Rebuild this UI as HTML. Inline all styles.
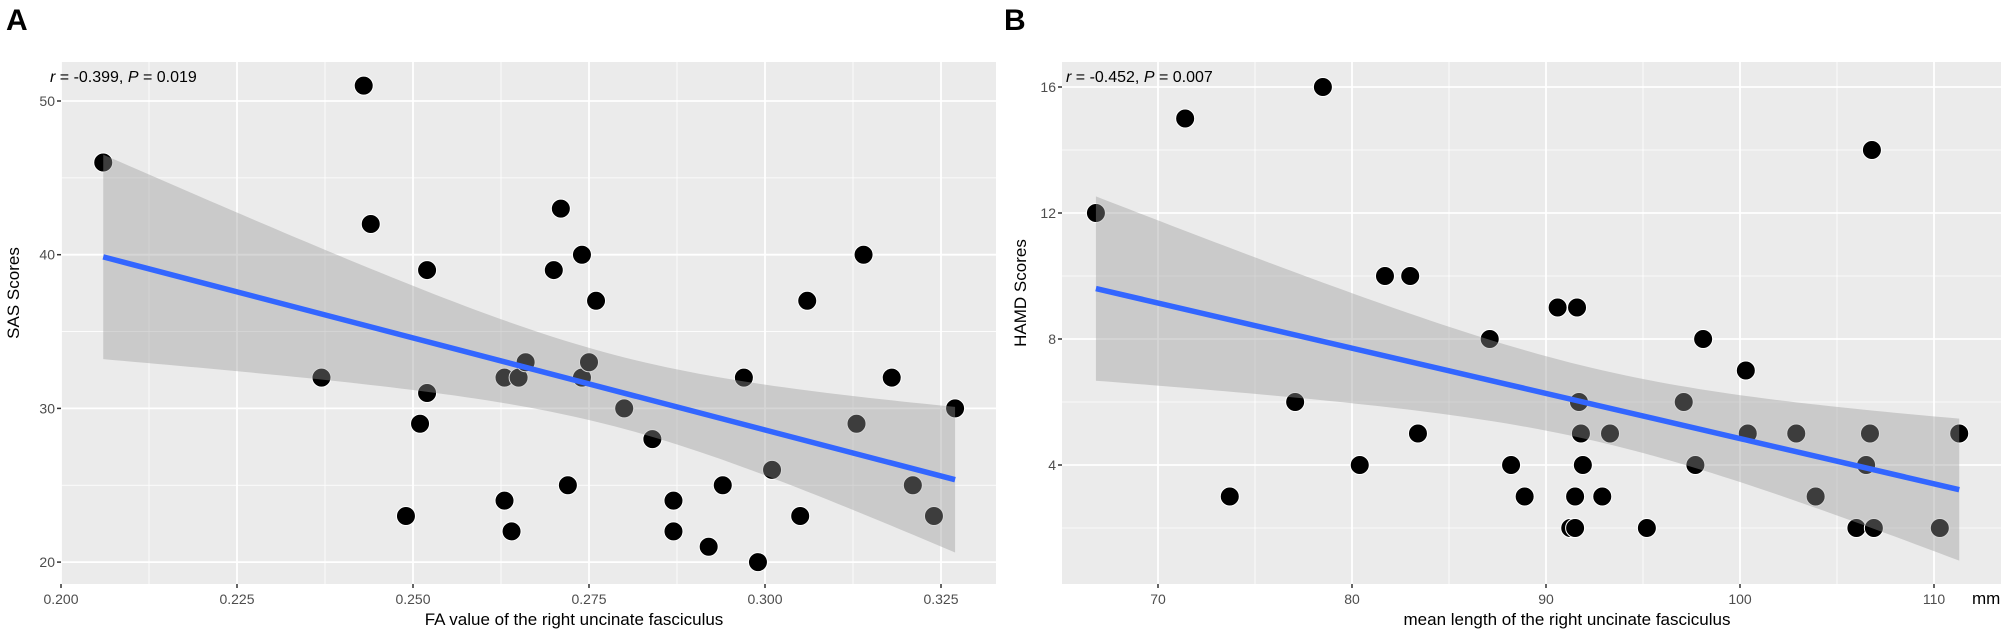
<!DOCTYPE html>
<html><head><meta charset="utf-8"><style>
html,body{margin:0;padding:0;background:#fff;}
svg{display:block;font-family:"Liberation Sans",Arial,sans-serif;}
</style></head><body>
<svg id="fig" width="2008" height="635" viewBox="0 0 2008 635" xmlns="http://www.w3.org/2000/svg">
<text x="6" y="30" font-size="30" font-weight="bold">A</text>
<text x="1004" y="30" font-size="30" font-weight="bold">B</text>
<g id="pa"></g>
<g id="pb"></g>
</svg>
<script>
const faValues=[0.206,0.243,0.244,0.237,0.249,0.251,0.252,0.252,0.263,0.263,0.264,0.265,0.266,0.271,0.270,0.272,0.274,0.274,0.275,0.276,0.280,0.284,0.287,0.287,0.292,0.294,0.297,0.299,0.301,0.305,0.306,0.313,0.314,0.318,0.321,0.324,0.327];
const sasScores=[46,51,42,32,23,29,31,39,32,24,22,32,33,43,39,25,40,32,33,37,30,28,24,22,21,25,32,20,26,23,37,29,40,32,25,23,30];
const lenValues=[66.8,71.4,73.7,77.07,78.5,80.4,81.7,83.0,83.4,87.1,88.2,88.9,90.6,91.25,91.5,91.5,91.6,91.7,91.8,91.9,92.9,93.3,95.2,97.1,97.7,98.1,100.3,100.4,102.9,103.9,106.0,106.5,106.7,106.8,106.9,110.3,111.3];
const hamdScores=[12,15,3,6,16,4,10,10,5,8,4,3,9,2,2,3,9,6,5,4,3,5,2,6,4,8,7,5,5,3,2,4,5,14,2,2,5];
const aXTicks=[0.200,0.225,0.250,0.275,0.300,0.325];
const aXTickLabels=["0.200","0.225","0.250","0.275","0.300","0.325"];
const aYTicks=[20,30,40,50];
const bXTicks=[70,80,90,100,110];
const bYTicks=[4,8,12,16];
const NS="http://www.w3.org/2000/svg";
function mk(parent,tag,attrs,txt){const e=document.createElementNS(NS,tag);for(const k in attrs)e.setAttribute(k,attrs[k]);if(txt!==undefined)e.textContent=txt;parent.appendChild(e);return e;}
function panel(g,cfg){
  const L=cfg.left,R=cfg.right,T=62,B=584;
  const sx=v=>cfg.x0px+(v-cfg.x0)*cfg.xs;
  const sy=v=>cfg.y0px-(v-cfg.y0)*cfg.ys;
  const bg=mk(g,'rect',{x:L,y:T,width:R-L,height:B-T,fill:'#ebebeb'});
  
  
  // minor grid
  const xt=cfg.xticks,yt=cfg.yticks;
  const dx=xt[1]-xt[0],dy=yt[1]-yt[0];
  for(let v=xt[0]-dx/2;v<=xt[xt.length-1]+dx;v+=dx){const p=sx(v);if(p>L&&p<R)mk(g,'line',{x1:p,x2:p,y1:T,y2:B,stroke:'#fff','stroke-width':0.8});}
  for(let v=yt[0]-dy/2;v<=yt[yt.length-1]+dy;v+=dy){const p=sy(v);if(p>T&&p<B)mk(g,'line',{x1:L,x2:R,y1:p,y2:p,stroke:'#fff','stroke-width':0.8});}
  xt.forEach((v,i)=>{const p=sx(v);
    mk(g,'line',{x1:p,x2:p,y1:T,y2:B,stroke:'#fff','stroke-width':1.8});
    mk(g,'line',{x1:p,x2:p,y1:B,y2:B+4,stroke:'#333','stroke-width':1.5});
    const t=mk(g,'text',{x:p,y:604,'font-size':14,'text-anchor':'middle',fill:'#4d4d4d'},cfg.xlabels[i]);
    
    });
  yt.forEach(v=>{const p=sy(v);
    mk(g,'line',{x1:L,x2:R,y1:p,y2:p,stroke:'#fff','stroke-width':1.8});
    mk(g,'line',{x1:L-4,x2:L,y1:p,y2:p,stroke:'#333','stroke-width':1.5});
    const t=mk(g,'text',{x:L-6,y:p+5,'font-size':14,'text-anchor':'end',fill:'#4d4d4d'},String(v));
    
    });
  const xs=cfg.xs_data,ys=cfg.ys_data,n=xs.length;
  xs.forEach((v,i)=>{const c=mk(g,'circle',{cx:sx(v),cy:sy(ys[i]),r:9.5,fill:'#000',stroke:'#fff','stroke-width':1});
    
    });
  // linear fit and 95% CI
  const mx=xs.reduce((a,b)=>a+b)/n,my=ys.reduce((a,b)=>a+b)/n;
  let sxx=0,sxy=0;xs.forEach((v,i)=>{sxx+=(v-mx)**2;sxy+=(v-mx)*(ys[i]-my);});
  const b=sxy/sxx,a=my-b*mx;
  let sse=0;xs.forEach((v,i)=>{sse+=(ys[i]-a-b*v)**2;});
  const s=Math.sqrt(sse/(n-2)),tq=2.03;
  const xmin=Math.min(...xs),xmax=Math.max(...xs);
  const up=[],lo=[];
  for(let k=0;k<=80;k++){const x=xmin+(xmax-xmin)*k/80;const f=a+b*x;const h=tq*s*Math.sqrt(1/n+(x-mx)**2/sxx);
    up.push(sx(x)+','+sy(f+h));lo.unshift(sx(x)+','+sy(f-h));}
  const band=mk(g,'polygon',{points:up.concat(lo).join(' '),fill:'#999999','fill-opacity':0.4});
  
  
  const ln=mk(g,'line',{x1:sx(xmin),y1:sy(a+b*xmin),x2:sx(xmax),y2:sy(a+b*xmax),stroke:'#3366FF','stroke-width':5.5});
  
  
  const an=mk(g,'text',{x:L-11+cfg.annDx,y:82,'font-size':16,fill:'#000'});
  
  
  mk(an,'tspan',{'font-style':'italic'},'r');mk(an,'tspan',{},' = '+cfg.r+', ');
  mk(an,'tspan',{'font-style':'italic'},'P');mk(an,'tspan',{},' = '+cfg.p);
  const xtl=mk(g,'text',{x:cfg.xtitleX,y:625,'font-size':17,'text-anchor':'middle',fill:'#000'},cfg.xtitle);
  
  
  const ytl=mk(g,'text',{x:0,y:0,'font-size':17,'text-anchor':'middle',fill:'#000',transform:'translate('+(cfg.ytitleX)+',293) rotate(-90)','xml:space':'preserve'},cfg.ytitle);
  
  
}
panel(document.getElementById('pa'),{left:61,right:996,x0:0.200,x0px:61,xs:7040,y0:50,y0px:101,ys:15.37,
  xticks:aXTicks,xlabels:aXTickLabels,yticks:aYTicks,xs_data:faValues,ys_data:sasScores,
  r:'-0.399',p:'0.019',annDx:0,xtitle:'FA value of the right uncinate fasciculus',xtitleX:574,ytitle:'SAS  Scores',ytitleX:19});
panel(document.getElementById('pb'),{left:1062,right:2001,x0:70,x0px:1158,xs:19.4,y0:16,y0px:87,ys:31.5,
  xticks:bXTicks,xlabels:bXTicks.map(String),yticks:bYTicks,xs_data:lenValues,ys_data:hamdScores,
  r:'-0.452',p:'0.007',annDx:15,xtitle:'mean length of the right uncinate fasciculus',xtitleX:1567,ytitle:'HAMD Scores',ytitleX:1026});
const mm=mk(document.getElementById('pb'),'text',{x:1972,y:604,'font-size':17,fill:'#000'},'mm');


</script>
</body></html>
